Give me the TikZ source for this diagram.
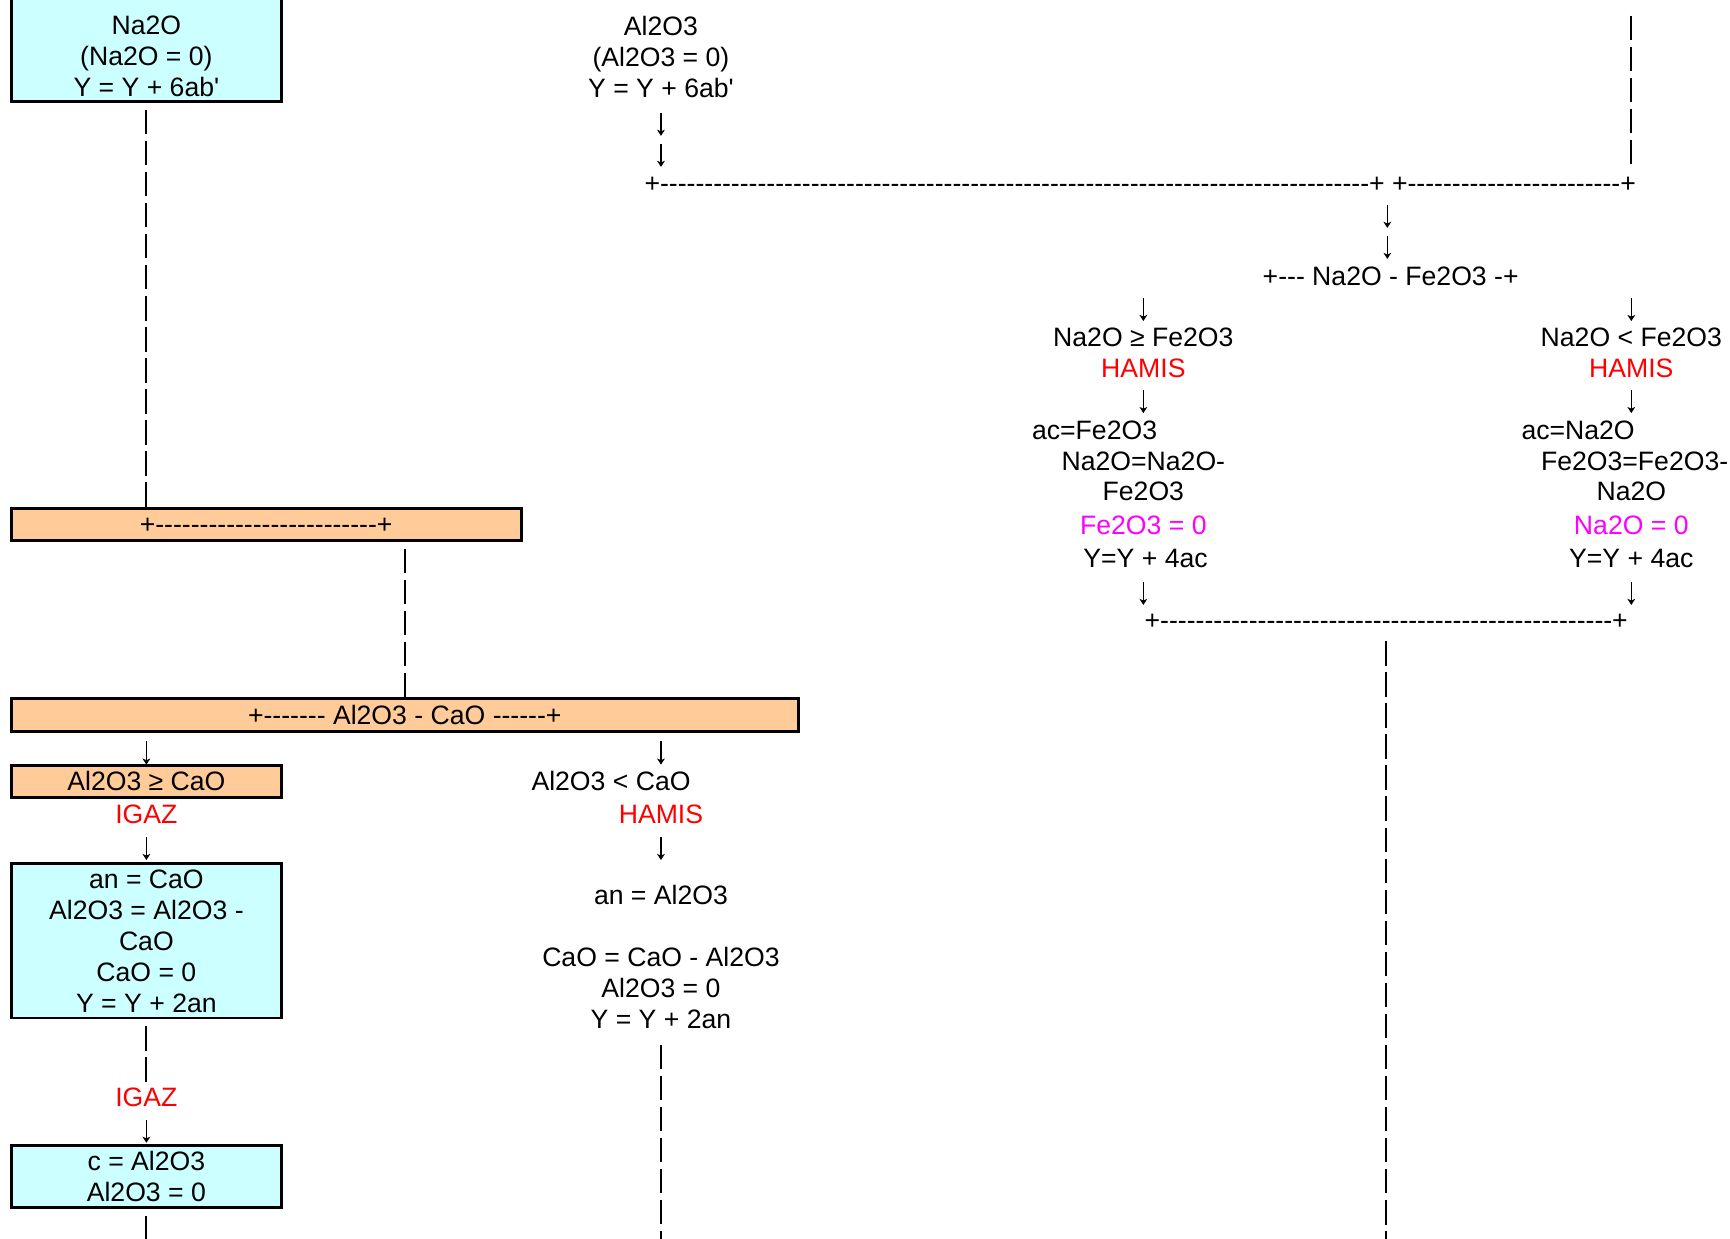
\documentclass[tikz,border=0pt]{standalone}
\usepackage{fontspec}
\setmainfont{Liberation Sans}[Ligatures=TeXOff]
\usetikzlibrary{arrows.meta}
\definecolor{boxcyan}{HTML}{CCFFFF}
\definecolor{boxorange}{HTML}{FFCC99}
\definecolor{zeropink}{RGB}{255,0,255}
\definecolor{flagred}{RGB}{255,0,0}
\tikzset{
  txt/.style={inner sep=0pt, text height=20pt, text depth=4pt},
  lines/.style={inner sep=0pt, align=center},
  cbox/.style={draw, line width=2.6pt, fill=boxcyan, inner sep=0pt, align=center},
  obox/.style={draw, line width=2.6pt, fill=boxorange, inner sep=0pt, text height=20pt, text depth=4pt},
  vdash/.style={line width=1.8pt, dash pattern=on 22pt off 6pt, shorten <=6pt},
  dn/.style={minimum width=10, minimum height=21, inner sep=0pt,
    path picture={\draw[line width=1.3pt, -{Stealth[length=5.5pt, width=7pt, inset=1.5pt]}]
      (path picture bounding box.north) -- (path picture bounding box.south);}},
}
\begin{document}
\begin{tikzpicture}[x=1pt, y=-1pt, font=\fontsize{24}{28}\selectfont]
    \useasboundingbox (0,0) rectangle (1560,1117);
    \node[cbox, minimum width=244, minimum height=110, anchor=south] (na2obox) at (132,93) {};
    \node[lines] (na2o) at (132,51) {Na2O\\(Na2O = 0)\\Y = Y + 6ab'};
    \node[obox, minimum width=460, minimum height=29] (bar1) at (240,473) {+-------------------------+};
    \node[obox, minimum width=710, minimum height=30] (bar2) at (365,645) {+------- Al2O3 - CaO ------+};
    \node[dn] (d1) at (132,679) {};
    \node[obox, minimum width=244, minimum height=29] (ge) at (132,705) {Al2O3 ≥ CaO};
    \node[txt, text=flagred] (igaz1) at (132,735) {IGAZ};
    \node[dn] (d2) at (132,765) {};
    \node[cbox, minimum width=244, minimum height=139] (an) at (132,848.5) {an = CaO\\Al2O3 = Al2O3 -\\CaO\\CaO = 0\\Y = Y + 2an};
    \node[txt, text=flagred] (igaz2) at (132,990) {IGAZ};
    \node[dn] (d3) at (132,1020) {};
    \node[cbox, minimum width=244, minimum height=56] (c) at (132,1061) {c = Al2O3\\Al2O3 = 0};
    \coordinate (c0) at (132,1125);
    \draw[vdash] (na2obox.south) -- (na2obox.south |- bar1.north);
    \draw[vdash] (bar2.north |- bar1.south) -- (bar2.north);
    \draw[vdash] (an.south) -- (igaz2.north);
    \draw[vdash] (c.south) -- (c0);

    \node[lines] (al2o3) at (596,51) {Al2O3\\(Al2O3 = 0)\\Y = Y + 6ab'};
    \node[dn] (d4) at (596,112) {};
    \node[dn] (d5) at (596,140) {};
    \node[txt, anchor=west] (top) at (581,166) {+--------------------------------------------------------------------------------+ +------------------------+};
    \node[dn] (d6) at (596,679) {};
    \node[txt] (lt) at (551,705) {Al2O3 < CaO};
    \node[txt, text=flagred] (hamis1) at (596,735) {HAMIS};
    \node[dn] (d7) at (596,765) {};
    \node[lines] (an2) at (596,863) {an = Al2O3\\[28pt]CaO = CaO - Al2O3\\Al2O3 = 0\\Y = Y + 2an};
    \draw[vdash, shorten <=14pt] (an2.south) -- (an2.south |- c0);

    \coordinate (rtop) at (1471,8);
    \draw[vdash] (rtop) -- (rtop |- top.north);
    \node[dn] (d8) at (1251,195) {};
    \node[dn] (d9) at (1251,223) {};
    \node[txt] (split) at (1254,249) {+--- Na2O - Fe2O3 -+};
    \node[dn] (d10) at (1031,279) {};
    \node[txt] (ge2) at (1031,304) {Na2O ≥ Fe2O3};
    \node[txt, text=flagred] (hamis2) at (1031,332) {HAMIS};
    \node[dn] (d11) at (1031,362) {};
    \node[txt] (ac1) at (987,388) {ac=Fe2O3};
    \node[txt] (na2oeq) at (1031,416) {Na2O=Na2O-};
    \node[txt] (fe2o3) at (1031,443) {Fe2O3};
    \node[txt, text=zeropink] (fezero) at (1031,474) {Fe2O3 = 0};
    \node[txt] (y1) at (1033,504) {Y=Y + 4ac};
    \node[dn] (d12) at (1031,535) {};
    \node[dn] (d13) at (1471,279) {};
    \node[txt] (lt2) at (1471,304) {Na2O < Fe2O3};
    \node[txt, text=flagred] (hamis3) at (1471,332) {HAMIS};
    \node[dn] (d14) at (1471,362) {};
    \node[txt] (ac2) at (1423,388) {ac=Na2O};
    \node[txt] (feeq) at (1474,416) {Fe2O3=Fe2O3-};
    \node[txt] (na2o2) at (1471,443) {Na2O};
    \node[txt, text=zeropink] (nazero) at (1471,474) {Na2O = 0};
    \node[txt] (y2) at (1471,504) {Y=Y + 4ac};
    \node[dn] (d15) at (1471,535) {};
    \node[txt] (bot) at (1250,560) {+---------------------------------------------------+};
    \coordinate (r0) at (1251,1125);
    \draw[vdash] (bot.south) -- (bot.south |- r0);
\end{tikzpicture}
\end{document}
